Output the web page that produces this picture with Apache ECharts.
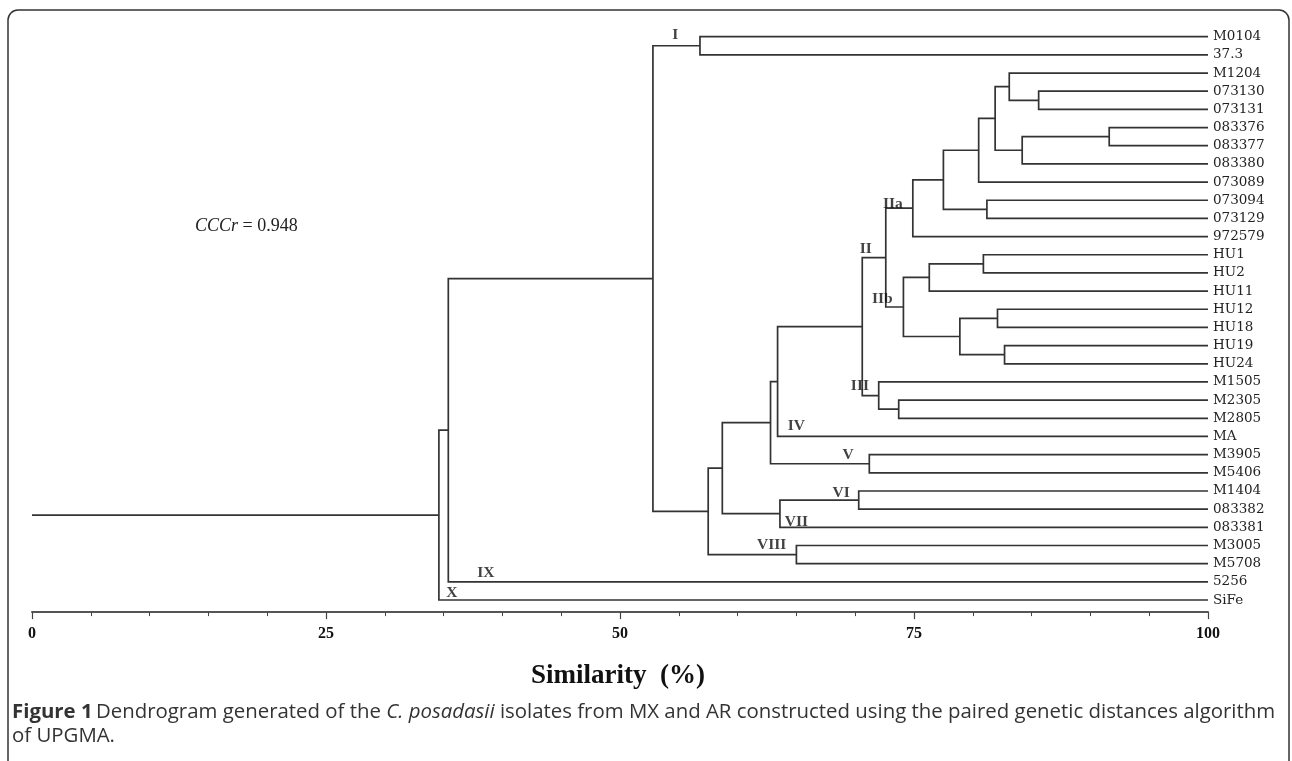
<!DOCTYPE html>
<html><head><meta charset="utf-8">
<script src="https://cdn.jsdelivr.net/npm/echarts@6/dist/echarts.min.js"></script>
<style>html,body{margin:0;padding:0;background:#fff}#c{width:1292px;height:761px}</style>
</head><body><div id="c"></div>
<script>
// Leaves (top to bottom)
const leafNames = ['M0104','37.3','M1204','073130','073131','083376','083377','083380','073089','073094','073129','972579','HU1','HU2','HU11','HU12','HU18','HU19','HU24','M1505','M2305','M2805','MA','M3905','M5406','M1404','083382','083381','M3005','M5708','5256','SiFe'];
// UPGMA merges: node 32+k joins mergeLeft[k] and mergeRight[k] at similarity mergeHeight[k]
const mergeLeft  = [0,3,2,5,35,34,37,9,38,40,12,42,15,17,44,43,41,20,19,48,51,23,52,25,55,54,28,57,32,60,61];
const mergeRight = [1,4,33,6,7,36,8,10,39,11,13,14,16,18,45,46,47,21,49,50,22,24,53,26,27,56,29,58,59,30,31];
const mergeHeight = [56.8,85.6,83.1,91.6,84.2,81.9,80.5,81.2,77.5,74.9,80.9,76.3,82.1,82.7,78.9,74.1,72.6,73.7,72.0,70.6,63.4,71.2,62.8,70.3,63.6,58.7,65.0,57.5,52.8,35.4,34.6];
// Cluster annotations
const clusterNames = ['I','IIa','II','IIb','III','IV','V','VI','VII','VIII','IX','X'];
const clusterX = [54.7,73.2,70.9,72.3,70.4,65.0,69.4,68.8,65.0,62.9,38.6,35.7];
const clusterY = [-0.11,9.2,11.7,14.45,19.2,21.4,23.0,25.1,26.7,28.0,29.5,30.6];
const xTicks = [0,25,50,75,100];

const nodeX = leafNames.map(() => 100);
const nodeY = leafNames.map((_, i) => i);
mergeHeight.forEach((h, k) => {
  nodeX.push(h);
  nodeY.push((nodeY[mergeLeft[k]] + nodeY[mergeRight[k]]) / 2);
});
const segs = mergeHeight.map((h, k) => {
  const a = mergeLeft[k], b = mergeRight[k];
  return [nodeX[a], nodeY[a], h, nodeY[a], h, nodeY[b], nodeX[b], nodeY[b]];
});
const root = nodeX.length - 1;
segs.push([0, nodeY[root], nodeX[root], nodeY[root], nodeX[root], nodeY[root], nodeX[root], nodeY[root]]);

const chart = echarts.init(document.getElementById('c'), null, {renderer: 'canvas'});
chart.setOption({
  animation: false,
  backgroundColor: '#fff',
  grid: {left: 32, right: 84, top: 27.6, height: 581.5},
  xAxis: {
    type: 'value', min: xTicks[0], max: xTicks[xTicks.length - 1], interval: 25, offset: 3, position: 'bottom',
    axisLine: {show: true, onZero: false, lineStyle: {color: '#555', width: 2}},
    axisTick: {show: true, length: 7, lineStyle: {color: '#444', width: 1.2}},
    minorTick: {show: true, splitNumber: 5, length: 4, lineStyle: {color: '#444', width: 1}},
    splitLine: {show: false},
    axisLabel: {margin: 14, fontFamily: 'Liberation Serif', fontWeight: 'bold', fontSize: 16, color: '#111'},
    name: 'Similarity  (%)', nameLocation: 'middle', nameGap: 50,
    nameTextStyle: {fontFamily: 'Liberation Serif', fontWeight: 'bold', fontSize: 27, color: '#111', padding: [0, 4, 0, 0]}
  },
  yAxis: [
    {type: 'value', min: -0.5, max: 31.5, inverse: true, show: false},
    {type: 'category', data: leafNames, inverse: true, position: 'right',
     axisLine: {show: false}, axisTick: {show: false}, splitLine: {show: false},
     axisLabel: {interval: 0, margin: 5, fontFamily: 'DejaVu Serif', fontSize: 13.5, color: '#222'}}
  ],
  series: [
    {
      type: 'custom', xAxisIndex: 0, yAxisIndex: 0, silent: true,
      data: segs,
      encode: {x: [0, 2, 4, 6], y: [1, 3, 5, 7]},
      renderItem: function (params, api) {
        const pts = [0, 1, 2, 3].map(j => api.coord([api.value(2 * j), api.value(2 * j + 1)]));
        return {type: 'polyline', shape: {points: pts}, style: {stroke: '#333', lineWidth: 1.7, fill: 'none'}};
      }
    },
    {
      type: 'scatter', xAxisIndex: 0, yAxisIndex: 0, silent: true, symbolSize: 0, z: 5,
      data: clusterNames.map((n, i) => [clusterX[i], clusterY[i], n]),
      label: {show: true, position: 'inside', formatter: p => p.data[2],
        fontFamily: 'Liberation Serif', fontWeight: 'bold', fontSize: 15.5, color: '#111'}
    }
  ],
  graphic: [
    {type: 'rect', silent: true, shape: {x: 8, y: 10, width: 1281, height: 790, r: 10},
     style: {fill: 'none', stroke: '#333', lineWidth: 1.5}},
    {type: 'text', left: 195, top: 217, silent: true,
     style: {text: '{i|CCCr}{n| = 0.948}', fill: '#222',
       rich: {i: {fontStyle: 'italic', fontFamily: 'Liberation Serif', fontSize: 18, fill: '#222'},
              n: {fontFamily: 'Liberation Serif', fontSize: 18, fill: '#222'}}}},
    {type: 'text', left: 12, top: 702, silent: true,
     style: {text: '{b|Figure 1} {n|Dendrogram generated of the }{i|C. posadasii}{n| isolates from MX and AR constructed using the paired genetic distances algorithm}',
       rich: {b: {fontFamily: 'Open Sans', fontWeight: 'bold', fontSize: 20.4, fill: '#333'},
              n: {fontFamily: 'Open Sans', fontSize: 20.4, fill: '#333'},
              i: {fontFamily: 'Open Sans', fontStyle: 'italic', fontSize: 20.4, fill: '#333'}}}},
    {type: 'text', left: 12, top: 726, silent: true,
     style: {text: 'of UPGMA.', fontFamily: 'Open Sans', fontSize: 20.4, fill: '#333'}}
  ]
});
</script>
</body></html>
